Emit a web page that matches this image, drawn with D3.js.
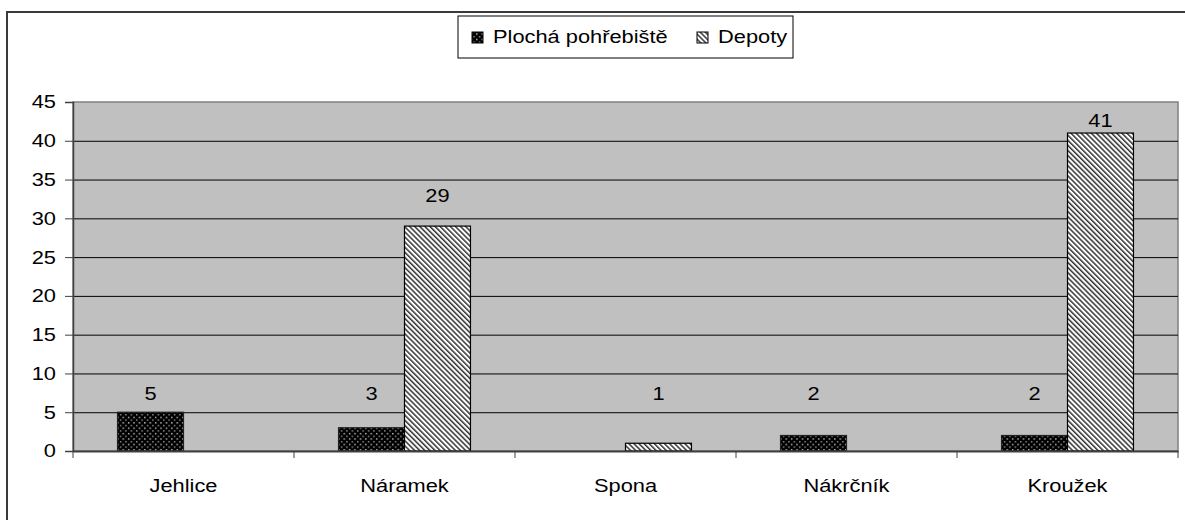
<!DOCTYPE html>
<html>
<head>
<meta charset="utf-8">
<script src="https://cdn.jsdelivr.net/npm/d3@7"></script>
<style>
  body { margin: 0; background: #fff; }
  svg text { font-family: "Liberation Sans", Arial, sans-serif; font-size: 18.5px; fill: #000; }
</style>
</head>
<body>
<div id="chart"></div>
<script>
// data
const categories = ["Jehlice", "Náramek", "Spona", "Nákrčník", "Kroužek"];
const seriesNames = ["Plochá pohřebiště", "Depoty"];
const plochaValues = [5, 3, 0, 2, 2];
const depotyValues = [0, 29, 1, 0, 41];
const yTicks = [0, 5, 10, 15, 20, 25, 30, 35, 40, 45];

const W = 1185, H = 520;
const plot = { left: 73, right: 1178, top: 102, bottom: 451 };
const stretch = 1.18; // the original text is a bit wider than Arial

const svg = d3.select("#chart").append("svg")
    .attr("width", W)
    .attr("height", H);

// patterns
const defs = svg.append("defs");
const dots = defs.append("pattern")
    .attr("id", "dots")
    .attr("patternUnits", "userSpaceOnUse")
    .attr("width", 5.4).attr("height", 5.4);
dots.append("rect").attr("width", 5.4).attr("height", 5.4).attr("fill", "#000");
dots.append("rect").attr("x", 1).attr("y", 1).attr("width", 1.3).attr("height", 1.3).attr("fill", "#e8e8e8");
dots.append("rect").attr("x", 3.7).attr("y", 3.7).attr("width", 1.3).attr("height", 1.3).attr("fill", "#b0b0b0");

const hatch = defs.append("pattern")
    .attr("id", "hatch")
    .attr("patternUnits", "userSpaceOnUse")
    .attr("width", 3.6).attr("height", 3.6)
    .attr("patternTransform", "rotate(-45)");
hatch.append("rect").attr("width", 3.6).attr("height", 3.6).attr("fill", "#fff");
hatch.append("rect").attr("width", 1.5).attr("height", 3.6).attr("fill", "#333");

const fills = ["url(#dots)", "url(#hatch)"];
const strokes = ["#222", "#000"];

// outer frame (right / bottom edges fall outside the picture)
svg.append("rect")
    .attr("x", 7).attr("y", 12)
    .attr("width", W + 10).attr("height", H + 10)
    .attr("fill", "none")
    .attr("stroke", "#3a3a3a")
    .attr("stroke-width", 2);

// scales
const x0 = d3.scaleBand()
    .domain(categories)
    .range([plot.left, plot.right]);

const gap = x0.bandwidth() * 0.2015;
const x1 = d3.scaleBand()
    .domain(seriesNames)
    .range([gap, x0.bandwidth() - gap]);

const y = d3.scaleLinear()
    .domain([0, 45])
    .range([plot.bottom, plot.top]);

// plot background
svg.append("rect")
    .attr("x", plot.left).attr("y", plot.top)
    .attr("width", plot.right - plot.left)
    .attr("height", plot.bottom - plot.top)
    .attr("fill", "#c0c0c0")
    .attr("stroke", "#808080")
    .attr("stroke-width", 1.5);

// grid lines
svg.append("g")
    .attr("transform", `translate(${plot.left},0)`)
    .call(d3.axisLeft(y).tickValues(yTicks.slice(1, -1)).tickSize(-(plot.right - plot.left)).tickFormat(""))
    .call(g => g.select(".domain").remove())
    .selectAll(".tick line").attr("stroke", "#000").attr("stroke-width", 1);

// y axis
const yAxis = svg.append("g")
    .attr("transform", `translate(${plot.left},0)`)
    .call(d3.axisLeft(y).tickValues(yTicks).tickSize(8));
yAxis.select(".domain").attr("stroke", "#404040").attr("stroke-width", 1.5);
yAxis.selectAll(".tick line").attr("stroke", "#404040");
yAxis.selectAll(".tick text")
    .style("font-size", "18.5px")
    .attr("fill", "#000")
    .attr("x", -17 / stretch)
    .attr("transform", `scale(${stretch},1)`);

// bars
const rows = categories.map((c, i) => ({ cat: c, vals: [plochaValues[i], depotyValues[i]] }));

const groups = svg.selectAll(".grp")
    .data(rows)
    .enter().append("g")
    .attr("class", "grp")
    .attr("transform", d => `translate(${x0(d.cat)},0)`);

groups.selectAll("rect")
    .data(d => d.vals.map((v, j) => ({ s: seriesNames[j], v: v, j: j })).filter(e => e.v > 0))
    .enter().append("rect")
    .attr("x", d => x1(d.s))
    .attr("y", d => y(d.v))
    .attr("width", x1.bandwidth())
    .attr("height", d => y(0) - y(d.v))
    .attr("fill", d => fills[d.j])
    .attr("stroke", d => strokes[d.j])
    .attr("stroke-width", 1.2);

// value labels: short bars share one row just above the 5 line, tall bars get theirs above the top
const labelY = v => y(v) > 400 ? 394 : Math.max(121, y(v) - 31);

groups.selectAll(".lbl")
    .data(d => d.vals.map((v, j) => ({ s: seriesNames[j], v: v })).filter(e => e.v > 0))
    .enter().append("text")
    .attr("class", "lbl")
    .attr("transform", d => `translate(${x1(d.s) + x1.bandwidth() / 2},${labelY(d.v)}) scale(${stretch},1)`)
    .attr("dy", "0.35em")
    .attr("text-anchor", "middle")
    .text(d => d.v);

// x axis
const xAxis = svg.append("g")
    .attr("transform", `translate(0,${plot.bottom})`)
    .call(d3.axisBottom(x0).tickSize(0).tickPadding(28));
xAxis.select(".domain").attr("stroke", "#404040").attr("stroke-width", 2);
xAxis.selectAll(".tick text")
    .style("font-size", "18.5px")
    .attr("fill", "#000")
    .attr("transform", `scale(${stretch},1)`);

// tick marks at the category boundaries
const bounds = categories.map(c => x0(c)).concat([plot.right]);
svg.append("g").selectAll("line")
    .data(bounds)
    .enter().append("line")
    .attr("x1", d => d).attr("x2", d => d)
    .attr("y1", plot.bottom).attr("y2", plot.bottom + 7)
    .attr("stroke", "#404040");

// legend
const legend = svg.append("g");
legend.append("rect")
    .attr("x", 458).attr("y", 16)
    .attr("width", 335).attr("height", 42)
    .attr("fill", "#fff")
    .attr("stroke", "#000");

const legendX = [472, 697];
seriesNames.forEach((name, i) => {
    legend.append("rect")
        .attr("x", legendX[i]).attr("y", 32)
        .attr("width", 11).attr("height", 11)
        .attr("fill", fills[i])
        .attr("stroke", "#000");
    legend.append("text")
        .attr("transform", `translate(${legendX[i] + 21},37) scale(${stretch},1)`)
        .attr("dy", "0.35em")
        .text(name);
});
</script>
</body>
</html>
